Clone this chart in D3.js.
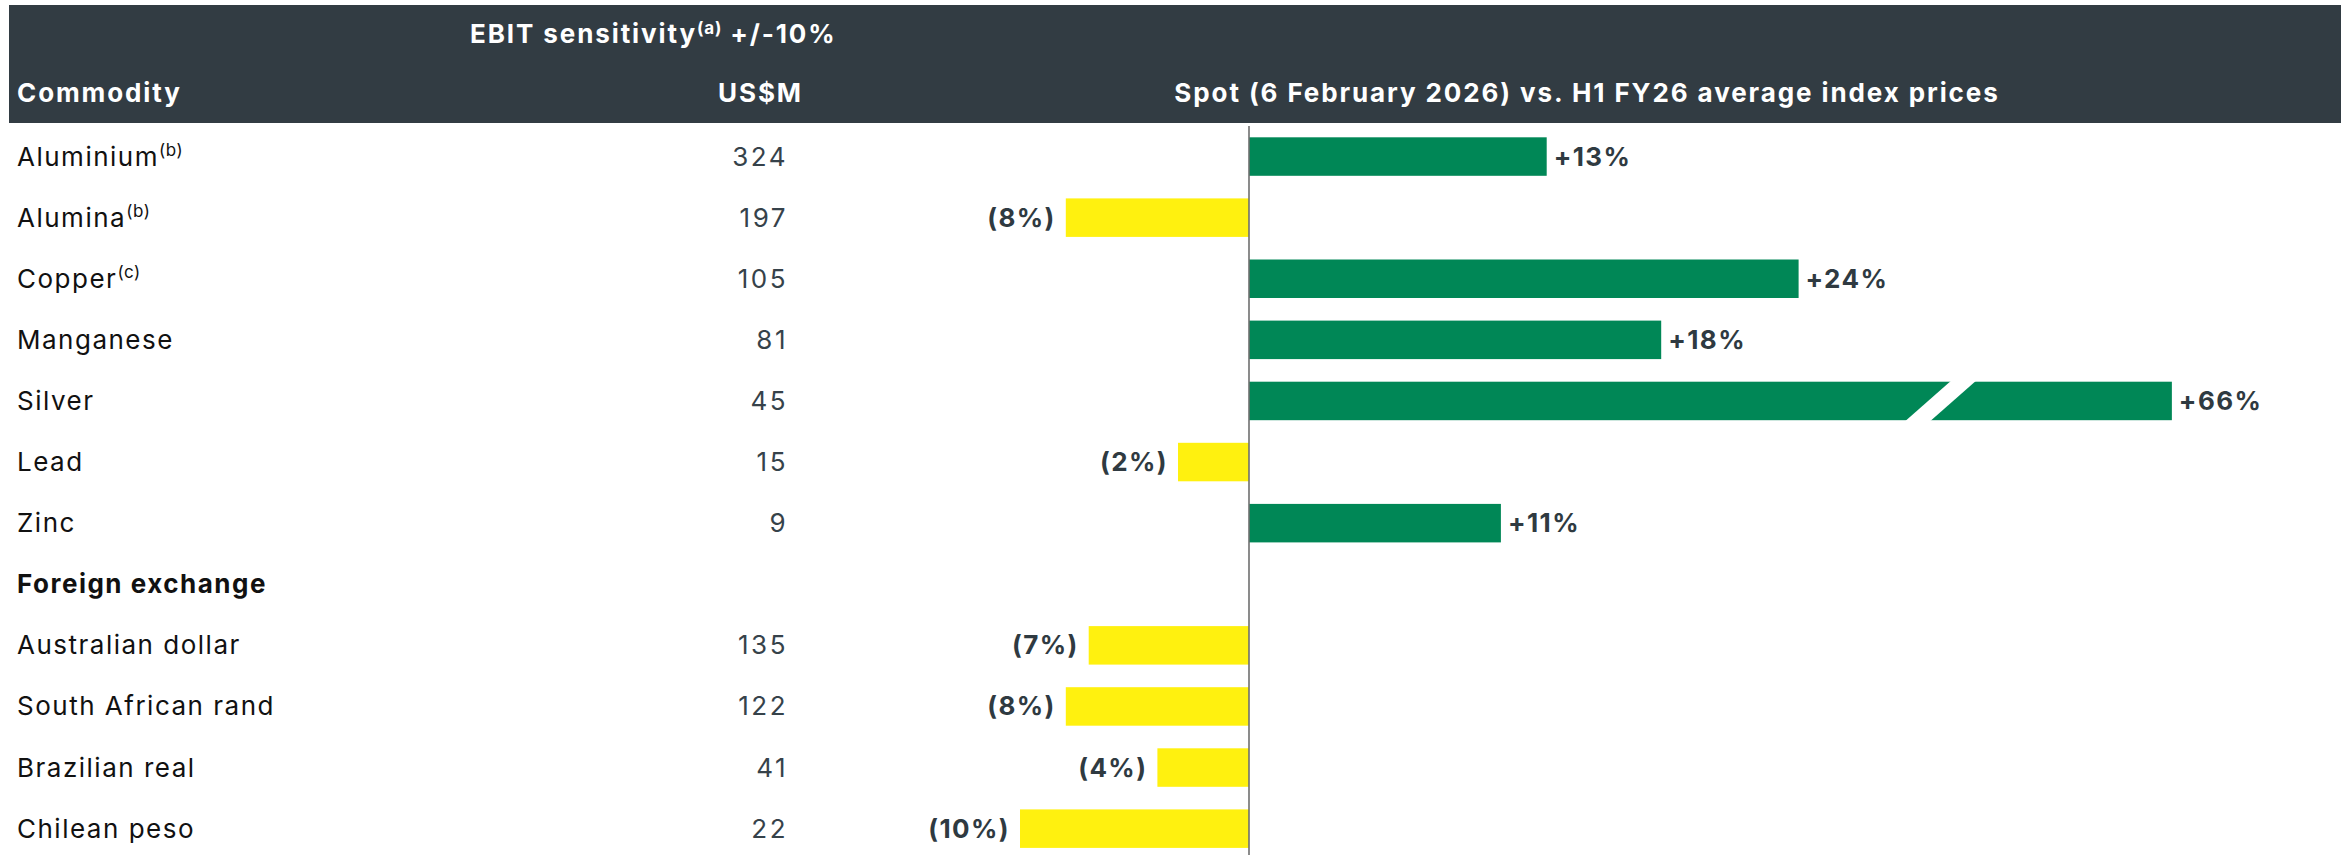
<!DOCTYPE html>
<html>
<head>
<meta charset="utf-8">
<script src="https://cdn.jsdelivr.net/npm/d3@7"></script>
<style>
  html, body { margin: 0; padding: 0; background: #ffffff; }
  svg { display: block; font-family: "Inter", "Noto Sans", sans-serif; }
</style>
</head>
<body>
<svg id="chart" width="2351" height="855"></svg>
<script>
// ---------- data ----------
const rowLabels   = ["Aluminium", "Alumina", "Copper", "Manganese", "Silver", "Lead", "Zinc",
                     "Foreign exchange", "Australian dollar", "South African rand", "Brazilian real", "Chilean peso"];
const rowNotes    = ["(b)", "(b)", "(c)", "", "", "", "", "", "", "", "", ""];
const sectionRows = ["Foreign exchange"];
const ebitValues  = [324, 197, 105, 81, 45, 15, 9, null, 135, 122, 41, 22];
// bar lengths as drawn in the picture (%)
const spotChange  = [13, -8, 24, 18, 66, -3.1, 11, null, -7, -8, -4, -10];
// printed bar labels
const spotLabels  = ["+13%", "(8%)", "+24%", "+18%", "+66%", "(2%)", "+11%", null, "(7%)", "(8%)", "(4%)", "(10%)"];
const headerTexts = { col1: "Commodity", col2Top: "EBIT sensitivity", col2Note: "(a)", col2Tail: " +/-10%",
                      col2: "US$M", col3: "Spot (6 February 2026) vs. H1 FY26 average index prices" };
const axisCap     = 40.3;   // bars longer than this are drawn broken
const breakValue  = 30.2;   // where the break gap sits

// ---------- layout ----------
const W = 2351, H = 855;
const svg = d3.select("#chart");
const headerColor = "#323c43";
const green = "#008756", yellow = "#fff10f", labelDark = "#2f3a41";

const rows = rowLabels.map((l, i) => ({ label: l, note: rowNotes[i], ebit: ebitValues[i], spot: spotChange[i],
                                        txt: spotLabels[i], section: sectionRows.includes(l) }));

const y = d3.scaleBand().domain(rowLabels).range([126, 859.2]).paddingInner(0.37).paddingOuter(0.185);
const x = d3.scaleLinear().domain([-10, 40]).range([1020, 2165]);

// header band
svg.append("rect").attr("x", 9).attr("y", 5).attr("width", 2332).attr("height", 118).attr("fill", headerColor);

const hdr = svg.append("g").attr("fill", "#ffffff").attr("font-weight", 700).attr("font-size", 26)
  .attr("letter-spacing", 1.9);
hdr.append("text").attr("x", 17).attr("y", 102).text(headerTexts.col1);
hdr.append("text").attr("x", 803).attr("y", 102).attr("text-anchor", "end").text(headerTexts.col2);
const t2 = hdr.append("text").attr("x", 470).attr("y", 43);
t2.append("tspan").text(headerTexts.col2Top);
t2.append("tspan").attr("font-size", 17).attr("letter-spacing", 0.8).attr("dy", -9).text(headerTexts.col2Note);
t2.append("tspan").attr("dy", 9).text(headerTexts.col2Tail);
hdr.append("text").attr("x", 1587).attr("y", 102).attr("text-anchor", "middle").text(headerTexts.col3);

// row labels
const lab = svg.append("g").attr("letter-spacing", 1.5).selectAll("text").data(rows).join("text")
  .attr("x", 17)
  .attr("y", d => y(d.label) + y.bandwidth() / 2 + 9)
  .attr("font-size", 26)
  .attr("font-weight", d => d.section ? 700 : 400)
  .attr("fill", "#111111");
lab.append("tspan").text(d => d.label);
lab.filter(d => d.note).append("tspan").attr("font-size", 17).attr("letter-spacing", 0.6).attr("dy", -10).text(d => d.note);

// ebit values
svg.append("g").attr("letter-spacing", 2.5).selectAll("text").data(rows.filter(d => d.ebit != null)).join("text")
  .attr("x", 788)
  .attr("y", d => y(d.label) + y.bandwidth() / 2 + 9)
  .attr("text-anchor", "end")
  .attr("font-size", 26)
  .attr("fill", "#36424a")
  .text(d => d.ebit);

// bars
const barRows = rows.filter(d => d.spot != null);
const capped = v => Math.min(v, axisCap);
svg.append("g").selectAll("rect").data(barRows).join("rect")
  .attr("x", d => x(Math.min(0, d.spot)))
  .attr("y", d => y(d.label))
  .attr("width", d => Math.abs(x(capped(d.spot)) - x(0)))
  .attr("height", y.bandwidth())
  .attr("fill", d => d.spot >= 0 ? green : yellow);

// axis break gaps
const bh = y.bandwidth();
svg.append("g").selectAll("polygon").data(barRows.filter(d => d.spot > axisCap)).join("polygon")
  .attr("fill", "#ffffff")
  .attr("points", d => {
    const yt = y(d.label) - 1, yb = y(d.label) + bh + 1;
    const xc = x(breakValue), off = 23, gw = 12.5;
    return [[xc - gw + off, yt], [xc + gw + off, yt], [xc + gw - off, yb], [xc - gw - off, yb]].map(p => p.join(",")).join(" ");
  });

// value labels
svg.append("g").attr("letter-spacing", 1.4).selectAll("text").data(barRows).join("text")
  .attr("x", d => d.spot >= 0 ? x(capped(d.spot)) + 7 : x(d.spot) - 10)
  .attr("y", d => y(d.label) + bh / 2 + 9)
  .attr("text-anchor", d => d.spot >= 0 ? "start" : "end")
  .attr("font-size", 26)
  .attr("font-weight", 700)
  .attr("fill", labelDark)
  .text(d => d.txt);

// zero line
svg.append("line")
  .attr("x1", x(0)).attr("x2", x(0))
  .attr("y1", 126).attr("y2", H)
  .attr("stroke", "#6f6f6f").attr("stroke-width", 1.6);
</script>
</body>
</html>
